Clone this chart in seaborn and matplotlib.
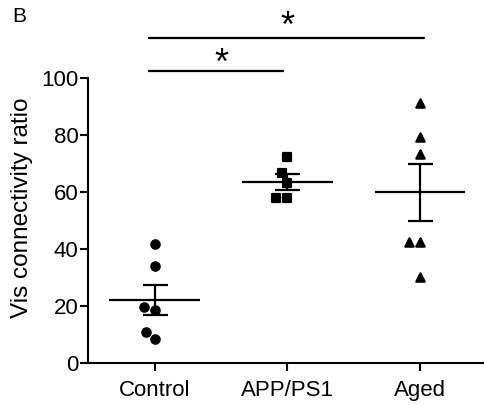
import matplotlib
matplotlib.use("Agg")
import matplotlib.pyplot as plt
import numpy as np
import pandas as pd
import seaborn as sns

groups = ["Control", "APP/PS1", "Aged"]
markers = ["o", "s", "^"]
control = [41.6, 34.0, 19.5, 18.6, 10.8, 8.4]
app_ps1 = [72.2, 66.6, 63.3, 57.8, 57.8]
aged = [91.1, 79.4, 73.3, 42.6, 42.6, 30.1]
yticks = [0, 20, 40, 60, 80, 100]

df = pd.DataFrame({
    "group": ["Control"] * len(control) + ["APP/PS1"] * len(app_ps1) + ["Aged"] * len(aged),
    "ratio": control + app_ps1 + aged,
})

sns.set_style("ticks")
plt.rcParams["font.family"] = ["Liberation Sans", "DejaVu Sans"]
plt.rcParams["text.color"] = "black"
plt.rcParams["axes.labelcolor"] = "black"

fig = plt.figure(figsize=(4.84, 4.05), dpi=100)
ax = fig.add_axes([0.182, 0.1037, 0.818, 0.7037])

for g, m in zip(groups, markers):
    sns.swarmplot(data=df[df["group"] == g], x="group", y="ratio", order=groups,
                  marker=m, color="black", edgecolor="black", linewidth=1.6,
                  size=6.0, ax=ax)

# mean +/- SEM
stats = df.groupby("group", sort=False)["ratio"].agg(["mean", "sem"]).reindex(groups)
for i, (mean, sem) in enumerate(zip(stats["mean"], stats["sem"])):
    ax.hlines(mean, i - 0.34, i + 0.34, color="black", lw=1.6)
    ax.errorbar(i, mean, yerr=sem, color="black", lw=1.6, capsize=9, capthick=1.6)

ax.set_xlim(-0.5, 2.48)
ax.set_ylim(0, 100)
ax.set_yticks(yticks)
ax.set_xticks(range(len(groups)))
ax.set_xticklabels(groups)
ax.set_xlabel("")
ax.set_ylabel("Vis connectivity ratio", fontsize=17.5)
ax.yaxis.set_label_coords(-0.14, 0.546)
ax.tick_params(axis="both", labelsize=16, width=1.5, length=6, color="black", labelcolor="black")
ax.tick_params(axis="y", pad=1)
ax.tick_params(axis="x", pad=6)
for s in ["left", "bottom"]:
    ax.spines[s].set_linewidth(1.5)
    ax.spines[s].set_color("black")
sns.despine(ax=ax)

# significance bars
ax.plot([-0.04, 0.97], [102.6, 102.6], color="black", lw=1.6, clip_on=False)
ax.plot([-0.04, 2.03], [113.9, 113.9], color="black", lw=1.6, clip_on=False)
ax.text(0.5, 101.5, "*", ha="center", va="baseline", fontsize=26)
ax.text(1.0, 114.5, "*", ha="center", va="baseline", fontsize=26)

fig.text(19 / 484, 1 - 17 / 405, "B", ha="center", va="center", fontsize=15)

fig.savefig("out.png", dpi=100)
